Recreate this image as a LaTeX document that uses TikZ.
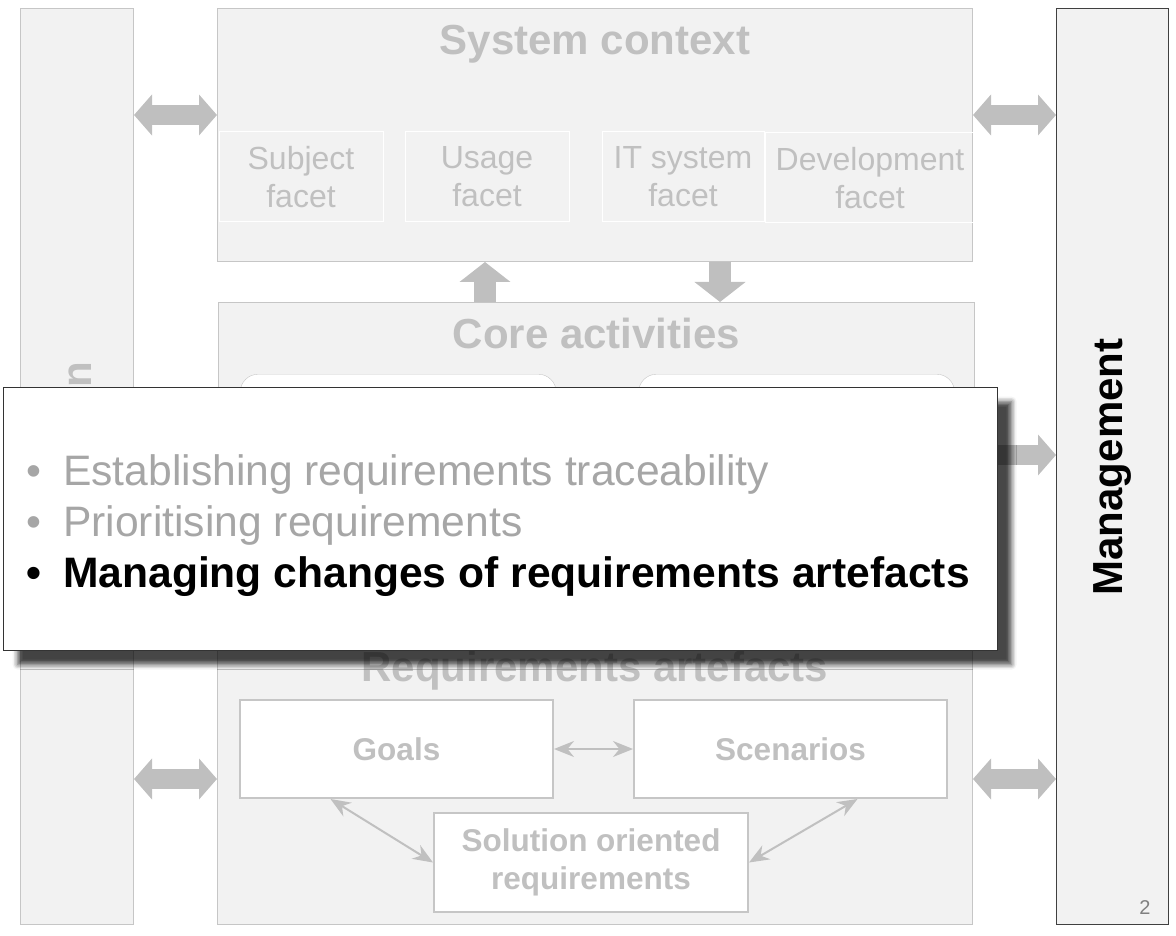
\documentclass[tikz,border=0pt]{standalone}
\usepackage{fontspec}
\setmainfont{Liberation Sans}
\usepackage{xcolor}
\usepackage{tikz}
\usetikzlibrary{arrows.meta,positioning,shadows,shadows.blur}

\definecolor{panelfill}{HTML}{F2F2F2}
\definecolor{panelline}{HTML}{C6C6C6}
\definecolor{fadetext}{HTML}{C0C0C0}
\definecolor{fatgray}{HTML}{BFBFBF}
\definecolor{itemgray}{HTML}{A6A6A6}
\definecolor{mgmtline}{HTML}{404040}

\newcommand\titlefont{\fontsize{42}{48}\selectfont\bfseries}
\newcommand\facetfont{\fontsize{32}{38}\selectfont}
\newcommand\artfont{\fontsize{31.5}{38}\selectfont\bfseries}
\newcommand\itemfont{\fontsize{42.6}{51}\selectfont}

\begin{document}
\begin{tikzpicture}[x=1pt, y=-1pt]
                \tikzset{
                  panel/.style = {draw=panelline, fill=panelfill, line width=1pt, anchor=north west, inner sep=0pt},
                  paneltitle/.style = {text=fadetext, font=\titlefont, anchor=base, inner sep=0pt},
                  facet/.style = {draw=white, line width=1pt, text=fadetext, font=\facetfont, align=center, minimum height=90pt, inner sep=0pt},
                  actbox/.style = {draw=panelline, fill=white, rounded corners=18pt, anchor=north west, minimum width=316pt, minimum height=220pt},
                  artbox/.style = {draw=panelline, fill=white, line width=2pt, text=fadetext, font=\artfont, align=center, minimum width=313pt, minimum height=98pt},
                  fatboth/.style = {draw=fatgray, line width=20pt, {Triangle[width=40pt,length=18pt]}-{Triangle[width=40pt,length=18pt]}},
                  fatone/.style = {draw=fatgray, line width=22pt, -{Triangle[width=50pt,length=20pt]}},
                  thinlink/.style = {draw=fadetext, line width=2pt, {Stealth[length=20pt,width=16pt]}-{Stealth[length=20pt,width=16pt]}},
                  itemline/.style = {anchor=base west, inner sep=0pt, font=\itemfont}
                }
                \useasboundingbox (0,0) rectangle (1176,936);

                \node [panel, minimum width=113pt, minimum height=916pt] (valcol) at (20,8) {};
                \node [panel, minimum width=755pt, minimum height=253pt] (ctx) at (217,8) {};
                \node [panel, minimum width=756pt, minimum height=310pt] (core) at (218,302) {};
                \node [panel, minimum width=755pt, minimum height=294pt] (reqart) at (217,630) {};
                \node [panel, draw=mgmtline, minimum width=112pt, minimum height=916pt] (mgmt) at (1056,8) {};

                \node [paneltitle] (ctxtitle) at ([yshift=-47pt]ctx.north) {System context};
                \node [paneltitle] (coretitle) at ([yshift=-46pt]core.north) {Core activities};
                \node [paneltitle] (reqtitle) at ([yshift=-51pt]reqart.north) {Requirements artefacts};
                \node [font=\titlefont, rotate=90] (mgmtlabel) at (1112,467) {Management};
                \node [text=fadetext, font=\titlefont, rotate=90, inner sep=0pt] (valtail) at (80,375) {n};
                \node [text=gray, font=\fontsize{20}{24}\selectfont] (pagenum) at (1145,908) {2};

                \node [facet, minimum width=164pt] (subj) at (301,177) {Subject\\facet};
                \node [facet, minimum width=164pt, right=21pt of subj] (usage) {Usage\\facet};
                \node [facet, minimum width=162pt, right=32pt of usage] (itsys) {IT system\\facet};
                \node [facet, minimum width=210pt, right=0pt of itsys, yshift=-1pt] (devel) {Development\\facet};

                \node [actbox] (actleft) at (240,374) {};
                \node [actbox, right=82pt of actleft.north east, anchor=north west] (actright) {};

                \node [artbox] (goals) at (396.5,749) {Goals};
                \node [artbox, right=79pt of goals] (scen) {Scenarios};
                \node [artbox, minimum width=314pt, minimum height=99pt] (solreq) at (591,862.5) {Solution oriented\\requirements};

                \draw [thinlink] (goals) -- (scen);
                \draw [thinlink] ([xshift=-66pt]goals.south) -- (solreq.west);
                \draw [thinlink] ([xshift=67pt]scen.south) -- (solreq.east);

                \coordinate (toprow) at (0,115);
                \coordinate (midrow) at (0,455);
                \coordinate (botrow) at (0,779);
                \coordinate (upx) at (485,0);
                \coordinate (downx) at (720,0);
                \draw [fatboth] (valcol.east |- toprow) -- (ctx.west |- toprow);
                \draw [fatboth] (ctx.east |- toprow) -- (mgmt.west |- toprow);
                \draw [fatboth] (core.east |- midrow) -- (mgmt.west |- midrow);
                \draw [fatboth] (valcol.east |- botrow) -- (reqart.west |- botrow);
                \draw [fatboth] (reqart.east |- botrow) -- (mgmt.west |- botrow);
                \draw [fatone] (core.north -| upx) -- (ctx.south -| upx);
                \draw [fatone] (ctx.south -| downx) -- (core.north -| downx);

                \node [draw=black!80, fill=white, line width=1.2pt, anchor=north west, minimum width=994pt, minimum height=263pt,
                       blur shadow={shadow xshift=14pt, shadow yshift=-14pt, shadow blur radius=5pt, shadow opacity=72}] (popup) at (3,387) {};
                \node [itemline, text=itemgray] (item1) at (26,485) {\makebox[37pt][l]{\textbullet}Establishing requirements traceability};
                \node [itemline, text=itemgray] (item2) at ([yshift=-51pt]item1.base west) {\makebox[37pt][l]{\textbullet}Prioritising requirements};
                \node [itemline, font=\itemfont\bfseries] (item3) at ([yshift=-51pt]item2.base west) {\makebox[37pt][l]{\textbullet}Managing changes of requirements artefacts};
\end{tikzpicture}
\end{document}
